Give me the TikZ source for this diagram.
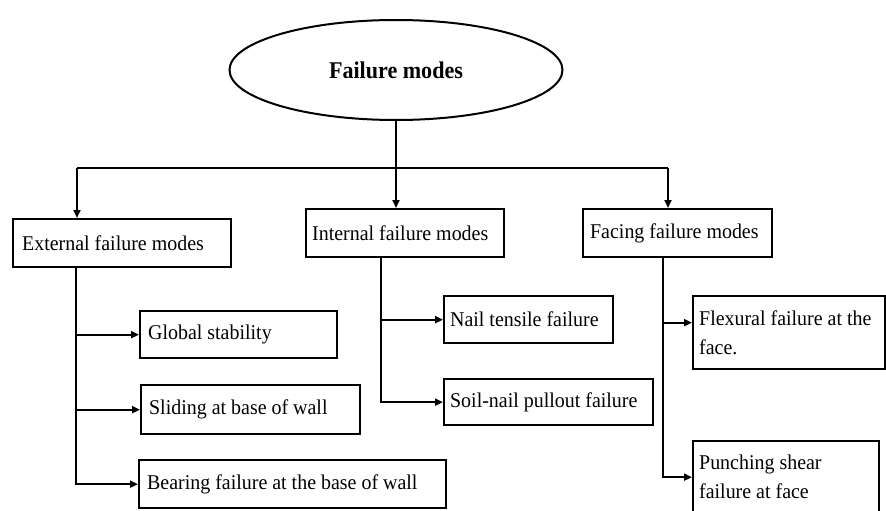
\documentclass[tikz,border=0pt]{standalone}
\usepackage{fontspec}
\setmainfont{Liberation Serif}[FakeStretch=0.95]
\newfontfamily\headfont[FakeStretch=0.92]{Liberation Serif}
\usetikzlibrary{shapes.geometric,arrows.meta}

\tikzset{
    box/.style={draw, line width=2.3pt, anchor=north west, inner xsep=8pt, inner ysep=0pt,
        align=flush left, font=\fontsize{21}{29}\selectfont},
    link/.style={line width=2pt},
    arr/.style={link, -{Triangle[length=8pt,width=7pt]}},
}

\begin{document}
\begin{tikzpicture}[x=1pt, y=-1pt]
    \useasboundingbox (0,0) rectangle (886,511);

    % Root
    \node[draw, ellipse, line width=2pt, minimum width=333pt, minimum height=100pt,
        font=\fontsize{24}{28}\headfont\bfseries] (top) at (396,70) {Failure modes};

    % Main groups
    \node[box, minimum width=218pt, minimum height=48pt, text width=200pt, inner xsep=9pt] (ext) at (12,218) {External failure modes};
    \node[box, minimum width=198pt, minimum height=48pt, text width=186pt, inner xsep=6pt] (int) at (305,208) {Internal failure modes};
    \node[box, minimum width=189pt, minimum height=48pt, text width=175pt, inner xsep=7pt] (fac) at (582,208) {Facing failure modes};

    % External failure modes
    \node[box, minimum width=197pt, minimum height=47pt, text width=181pt] (glob) at (139,310) {Global stability};
    \node[box, minimum width=219pt, minimum height=49pt, text width=203pt] (slid) at (140,384) {Sliding at base of wall};
    \node[box, minimum width=307pt, minimum height=48pt, text width=291pt] (bear) at (138,459) {Bearing failure at the base of wall};

    % Internal failure modes
    \node[box, minimum width=169pt, minimum height=47pt, text width=157pt, inner xsep=6pt] (nail) at (443,295) {Nail tensile failure};
    \node[box, minimum width=209pt, minimum height=46pt, text width=197pt, inner xsep=6pt] (soil) at (443,378) {Soil-nail pullout failure};

    % Facing failure modes
    \node[box, minimum width=192pt, minimum height=73pt, text width=180pt, inner xsep=6pt] (flex) at (692,295) {Flexural failure at the\\face.};
    \node[box, minimum width=186pt, minimum height=72pt, text width=174pt, inner xsep=6pt] (punch) at (692,440) {Punching shear\\failure at face};

    % Root to groups
    \coordinate (busL) at (77,168);
    \coordinate (busR) at (668,168);
    \draw[link] (busL) -- (busR);
    \draw[arr] (top.south) -- (top.south |- int.north);
    \draw[arr] (busL) -- (busL |- ext.north);
    \draw[arr] (busR) -- (busR |- fac.north);

    % Groups to modes
    \coordinate (extT) at (76,0);
    \coordinate (intT) at (381,0);
    \coordinate (facT) at (663,0);
    \coordinate (flexIn) at ([yshift=10pt]flex.west);

    \draw[arr] (extT |- ext.south) |- (bear.west);
    \foreach \n in {glob,slid} {
        \draw[arr] (extT |- \n.west) -- (\n.west);
    }

    \draw[arr] (intT |- int.south) |- (soil.west);
    \draw[arr] (intT |- nail.west) -- (nail.west);

    \draw[arr] (facT |- fac.south) |- (punch.west);
    \draw[arr] (facT |- flexIn) -- (flexIn);
\end{tikzpicture}
\end{document}
